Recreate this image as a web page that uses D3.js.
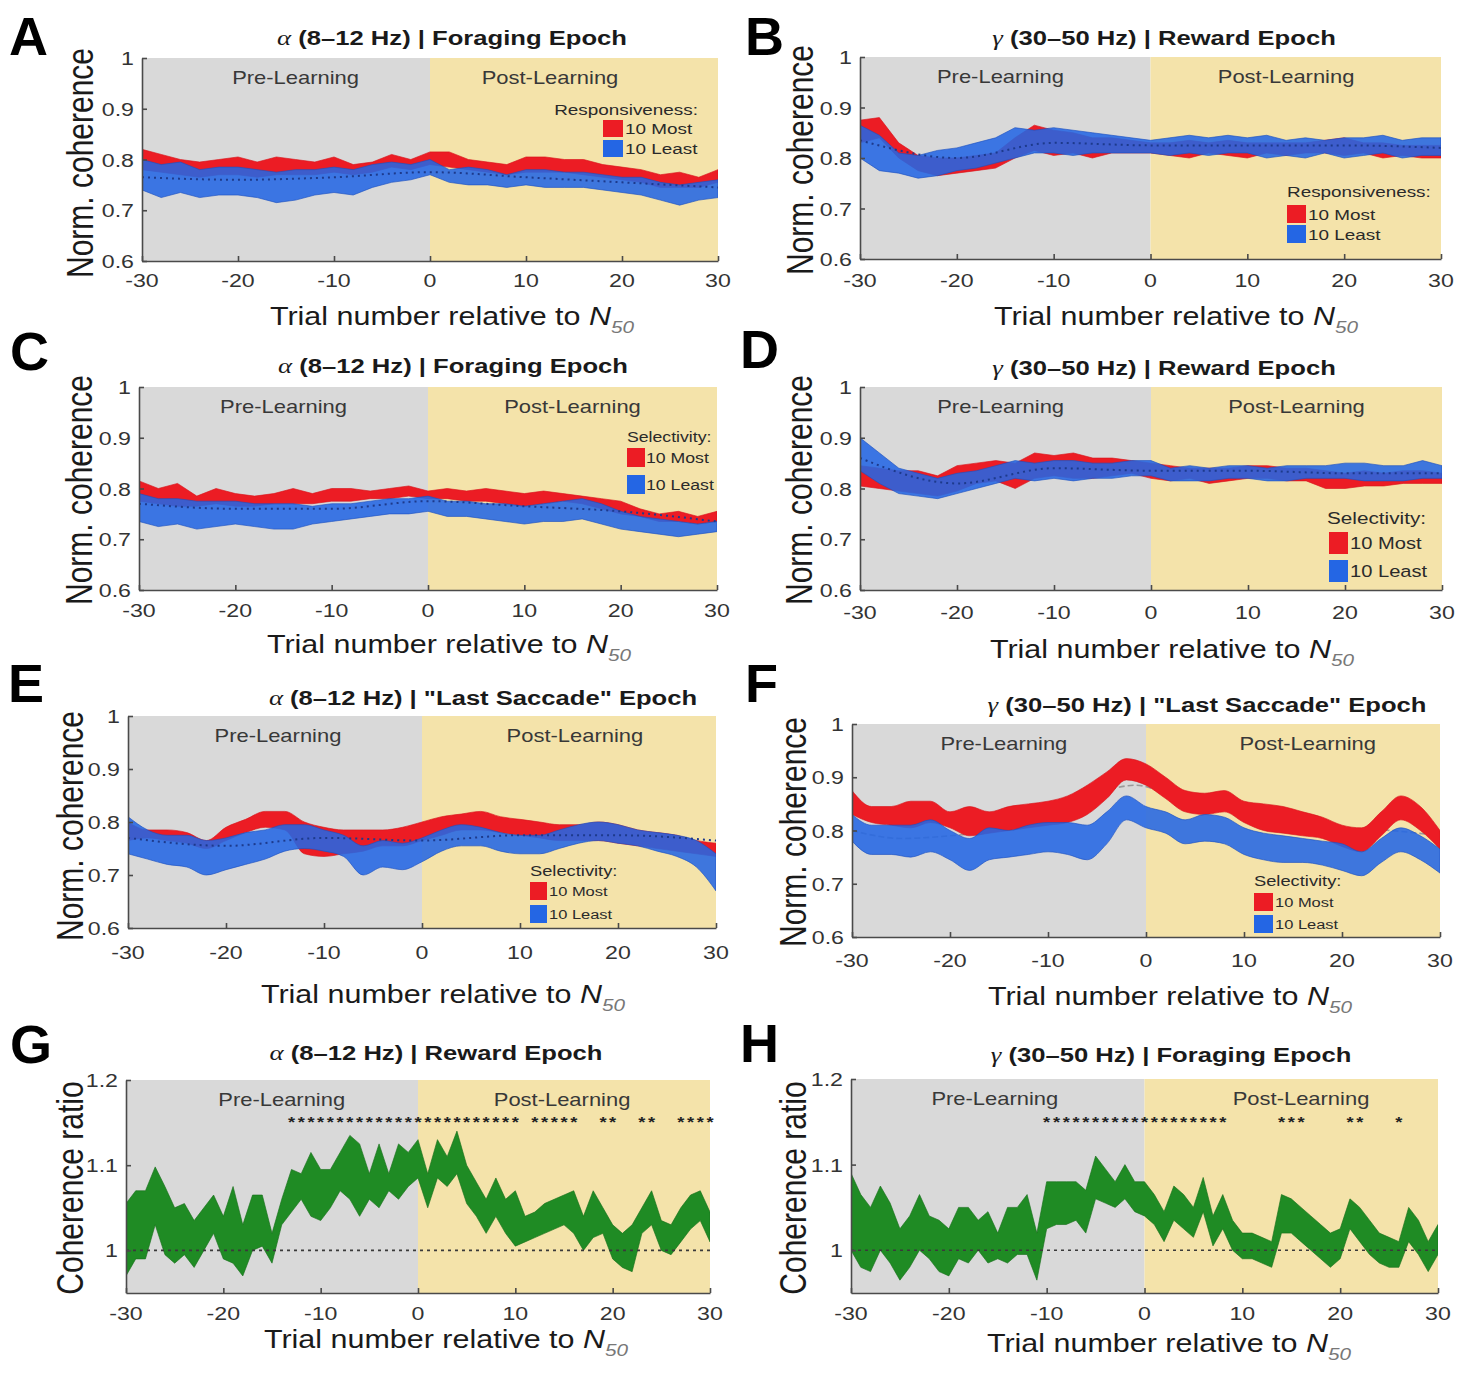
<!DOCTYPE html>
<html>
<head>
<meta charset="utf-8">
<script src="https://cdn.jsdelivr.net/npm/d3@7"></script>
<style>
  body { margin: 0; background: #fff; }
  svg { display: block; }
  text { font-family: "Liberation Sans", Arial, Helvetica, sans-serif; }
</style>
</head>
<body>
<svg id="fig" width="1473" height="1374"></svg>
<script>
// ---- shared categories / ticks ----
const trialsEven = [-30,-28,-26,-24,-22,-20,-18,-16,-14,-12,-10,-8,-6,-4,-2,0,2,4,6,8,10,12,14,16,18,20,22,24,26,28,30];
const trialsAll = [-30,-29,-28,-27,-26,-25,-24,-23,-22,-21,-20,-19,-18,-17,-16,-15,-14,-13,-12,-11,
  -10,-9,-8,-7,-6,-5,-4,-3,-2,-1,0,1,2,3,4,5,6,7,8,9,10,11,12,13,14,15,16,17,18,19,20,
  21,22,23,24,25,26,27,28,29,30];
const xTicks = [-30,-20,-10,0,10,20,30];
const coherenceTicks = [0.6,0.7,0.8,0.9,1];
const ratioTicks = [1,1.1,1.2];
const trendTrials = [-30,-20,-10,0,10,20,30];
const epochNames = ["Pre-Learning", "Post-Learning"];
const groupNames = ["10 Most", "10 Least"];

// ---- A: alpha, foraging, responsiveness ----
const aMostHi  = [.82,.81,.80,.795,.80,.805,.795,.805,.80,.795,.805,.79,.795,.81,.80,.815,.815,.80,.795,.79,.805,.805,.80,.80,.79,.785,.78,.77,.775,.765,.78];
const aMostLo  = [.78,.775,.77,.765,.77,.77,.765,.77,.77,.77,.775,.77,.775,.785,.78,.79,.785,.78,.775,.77,.775,.775,.775,.77,.765,.76,.755,.745,.745,.745,.755];
const aLeastHi = [.80,.79,.795,.78,.785,.785,.78,.775,.78,.78,.785,.78,.79,.795,.79,.80,.78,.785,.78,.77,.78,.78,.775,.775,.77,.765,.765,.755,.75,.755,.76];
const aLeastLo = [.74,.725,.735,.725,.73,.73,.725,.715,.72,.73,.735,.73,.745,.755,.76,.77,.755,.75,.75,.745,.75,.745,.745,.745,.74,.735,.73,.72,.71,.72,.725];
const aTrend   = [.765,.76,.765,.775,.765,.755,.745];

// ---- B: gamma, reward, responsiveness ----
const bMostHi  = [.875,.88,.83,.805,.80,.80,.805,.81,.84,.865,.855,.85,.84,.84,.835,.83,.83,.835,.83,.835,.83,.83,.83,.83,.835,.84,.83,.83,.825,.825,.825];
const bMostLo  = [.83,.84,.80,.775,.765,.77,.775,.78,.80,.815,.805,.81,.80,.81,.81,.81,.805,.80,.81,.805,.80,.81,.805,.81,.81,.805,.81,.80,.805,.80,.80];
const bLeastHi = [.865,.845,.81,.805,.815,.82,.83,.84,.86,.855,.86,.855,.85,.845,.84,.835,.84,.845,.84,.845,.84,.845,.835,.84,.835,.84,.84,.845,.835,.84,.84];
const bLeastLo = [.80,.775,.77,.76,.765,.775,.78,.79,.80,.81,.81,.805,.81,.81,.81,.81,.805,.81,.805,.81,.81,.80,.805,.80,.81,.80,.805,.81,.80,.805,.805];
const bTrend   = [.835,.80,.83,.825,.825,.825,.82];

// ---- C: alpha, foraging, selectivity ----
const cMostHi  = [.815,.80,.81,.785,.80,.79,.785,.79,.80,.79,.80,.80,.795,.80,.805,.795,.80,.795,.80,.795,.79,.795,.79,.785,.78,.775,.76,.75,.755,.745,.755];
const cMostLo  = [.775,.77,.765,.765,.77,.765,.765,.77,.77,.77,.775,.775,.78,.78,.785,.78,.78,.775,.775,.77,.765,.77,.775,.77,.76,.75,.745,.735,.735,.73,.735];
const cLeastHi = [.79,.78,.78,.775,.775,.775,.77,.77,.77,.765,.77,.77,.775,.78,.78,.785,.775,.775,.77,.77,.765,.77,.775,.78,.77,.755,.745,.74,.735,.73,.735];
const cLeastLo = [.735,.725,.73,.72,.725,.73,.725,.72,.72,.73,.735,.74,.745,.75,.75,.755,.745,.745,.74,.735,.73,.735,.735,.74,.73,.72,.715,.71,.705,.71,.715];
const cTrend   = [.77,.76,.76,.775,.765,.755,.735];

// ---- D: gamma, reward, selectivity ----
const dMostHi  = [.845,.84,.835,.835,.825,.845,.85,.855,.85,.87,.865,.87,.86,.86,.855,.85,.845,.84,.84,.84,.845,.845,.84,.84,.835,.83,.835,.83,.835,.835,.83];
const dMostLo  = [.805,.80,.795,.79,.785,.795,.81,.815,.80,.82,.825,.82,.82,.825,.83,.82,.815,.82,.81,.815,.82,.82,.815,.815,.80,.80,.805,.805,.81,.81,.81];
const dLeastHi = [.90,.87,.84,.83,.82,.83,.835,.845,.855,.85,.855,.855,.85,.85,.855,.855,.84,.845,.84,.845,.845,.84,.845,.845,.845,.85,.85,.845,.845,.855,.845];
const dLeastLo = [.835,.81,.79,.785,.78,.79,.80,.81,.82,.815,.82,.815,.82,.82,.825,.825,.815,.815,.815,.82,.82,.815,.815,.82,.82,.82,.815,.815,.815,.82,.82];
const dTrend   = [.86,.81,.84,.835,.835,.83,.83];

// ---- E: alpha, last saccade, selectivity ----
const eMostHi  = [.80,.785,.785,.78,.765,.79,.805,.82,.82,.80,.79,.785,.785,.785,.79,.80,.81,.815,.82,.81,.805,.80,.795,.795,.80,.795,.785,.78,.775,.765,.76];
const eMostLo  = [.765,.77,.765,.76,.75,.765,.78,.79,.785,.74,.735,.74,.745,.755,.755,.765,.775,.785,.785,.78,.775,.77,.765,.765,.765,.76,.755,.75,.745,.74,.735];
const eLeastHi = [.81,.785,.775,.775,.765,.77,.78,.785,.795,.795,.785,.775,.755,.765,.76,.77,.785,.795,.79,.78,.775,.775,.785,.795,.80,.795,.785,.78,.775,.765,.74];
const eLeastLo = [.74,.73,.72,.715,.70,.71,.72,.73,.745,.75,.745,.735,.70,.715,.71,.725,.745,.755,.755,.745,.74,.74,.75,.76,.765,.76,.755,.745,.735,.715,.67];
const eTrend   = [.77,.755,.77,.765,.775,.775,.765];

// ---- F: gamma, last saccade, selectivity ----
const fMostHi  = [.875,.845,.845,.855,.855,.835,.845,.835,.845,.85,.855,.865,.885,.91,.935,.925,.90,.875,.87,.875,.855,.85,.845,.835,.825,.81,.805,.835,.865,.845,.80];
const fMostLo  = [.83,.815,.81,.805,.815,.805,.79,.795,.80,.805,.81,.815,.83,.86,.895,.885,.86,.835,.83,.835,.815,.80,.795,.79,.785,.77,.76,.79,.82,.80,.765];
const fLeastHi = [.83,.81,.81,.81,.82,.80,.785,.805,.80,.81,.815,.815,.81,.835,.865,.845,.835,.82,.83,.825,.805,.795,.79,.785,.78,.775,.76,.785,.805,.79,.765];
const fLeastLo = [.78,.755,.755,.75,.76,.745,.725,.745,.75,.755,.76,.755,.745,.775,.82,.805,.795,.775,.78,.775,.755,.745,.74,.74,.735,.725,.715,.74,.76,.745,.72];
const fPooledTrials = [-30,-25,-20,-15,-10,-6,-3,-1,2,5,10,15,20,25,30];
const fPooled       = [.80,.785,.79,.80,.815,.835,.88,.885,.87,.85,.835,.82,.805,.80,.79];

// ---- G: alpha, reward, coherence ratio ----
const gRatioHi = [1.055,1.07,1.07,1.098,1.075,1.05,1.055,1.035,1.05,1.065,
  1.04,1.075,1.03,1.065,1.065,1.02,1.06,1.095,1.09,1.115,
  1.095,1.095,1.115,1.135,1.125,1.09,1.125,1.09,1.125,1.115,
  1.13,1.09,1.13,1.11,1.14,1.10,1.08,1.06,1.085,1.06,
  1.07,1.04,1.045,1.055,1.06,1.065,1.07,1.04,1.07,1.05,
  1.03,1.02,1.03,1.05,1.07,1.035,1.03,1.05,1.065,1.07,1.045];
const gRatioLo = [.97,.99,.99,1.03,.995,.985,.995,.98,1.0,1.02,
  .99,.985,.97,1.0,1.005,.985,1.03,1.045,1.06,1.04,
  1.035,1.05,1.07,1.06,1.04,1.06,1.05,1.07,1.06,1.075,
  1.085,1.05,1.085,1.075,1.09,1.055,1.04,1.02,1.04,1.02,
  1.005,1.01,1.015,1.02,1.025,1.03,1.02,1.0,1.015,1.02,
  .99,.98,.975,1.02,1.03,1.0,.995,1.01,1.025,1.035,1.01];
const gSignificant = [-13,-12,-11,-10,-9,-8,-7,-6,-5,-4,-3,-2,-1,0,1,2,3,4,5,6,7,8,9,10,
  12,13,14,15,16,19,20,23,24,27,28,29,30];

// ---- H: gamma, foraging, coherence ratio ----
const hRatioHi = [1.09,1.065,1.05,1.075,1.055,1.025,1.04,1.065,1.04,1.035,
  1.025,1.05,1.05,1.035,1.045,1.02,1.05,1.05,1.065,1.02,
  1.08,1.08,1.08,1.08,1.07,1.11,1.095,1.08,1.10,1.08,
  1.08,1.065,1.045,1.075,1.065,1.05,1.085,1.04,1.065,1.035,
  1.02,1.02,1.015,1.01,1.065,1.06,1.05,1.04,1.03,1.02,
  1.025,1.06,1.05,1.035,1.02,1.015,1.01,1.05,1.035,1.01,1.03];
const hRatioLo = [1.0,.98,.975,1.0,.985,.965,.98,1.0,.99,.975,
  .97,.99,.985,1.0,.985,.99,.985,.995,.995,.965,
  1.025,1.03,1.03,1.035,1.02,1.06,1.055,1.05,1.06,1.045,
  1.04,1.03,1.01,1.035,1.025,1.015,1.045,1.005,1.025,1.0,
  .99,.99,.985,.98,1.02,1.02,1.01,1.0,.99,.98,
  .99,1.025,1.01,.995,.985,.98,.98,1.01,.995,.975,.995];
const hSignificant = [-10,-9,-8,-7,-6,-5,-4,-3,-2,-1,0,1,2,3,4,5,6,7,8,14,15,16,21,22,26];

// ---- styling ----
const RED = "#ec1c24", BLUE = "#2466e4", GREEN = "#1f8b24", GREEN_EDGE = "#17701b";
const GRAY = "#d9d9d9", YELLOW = "#f4e3aa", AXIS = "#4a4a4a";
const GREEK = "'Liberation Serif', 'DejaVu Serif', serif";
const SX = 1.22; // text in the figure is set slightly wide

const svg = d3.select("#fig");

function wideText(parent, x, y, size, anchor, rotate) {
  const g = parent.append("g")
    .attr("transform", `translate(${x},${y}) scale(${SX},1)` + (rotate ? ` rotate(${rotate})` : ""));
  return g.append("text")
    .attr("font-size", size)
    .attr("text-anchor", anchor || "start")
    .attr("fill", "#1a1a1a");
}

function pair(most, least) {
  return [
    { x: trialsEven, lo: most[0], hi: most[1], color: RED, opacity: 1, edge: "#d8141b" },
    { x: trialsEven, lo: least[0], hi: least[1], color: BLUE, opacity: 0.88, edge: "#1c50c0" }
  ];
}
function dottedTrend(values) {
  return { x: trendTrials, y: values, color: "#1d3a8c", width: 2, dash: "2,4" };
}

const panels = [
  { letter: "A", greek: "α", title: "(8–12 Hz) | Foraging Epoch",
    left: 142, right: 718, top: 58, bottom: 261, yDomain: [0.6, 1], yTicks: coherenceTicks,
    titleX: 452, titleY: 45, letterX: 9, letterY: 55, yLabel: "Norm. coherence", yLabelX: 93, yLabelY: 163,
    xLabelX: 452, xLabelY: 325, xTickDy: 26, preAt: -14, postAt: 12.5, curve: d3.curveLinear,
    bands: pair([aMostLo, aMostHi], [aLeastLo, aLeastHi]), over: dottedTrend(aTrend),
    legend: { header: "Responsiveness:", hx: 698, hy: 115, hAnchor: "end", hfs: 15.5,
              sx: 603, sy: [120, 140], sw: 20, sh: 17, lx: 625, lfs: 15.5 } },
  { letter: "B", greek: "γ", title: "(30–50 Hz) | Reward Epoch",
    left: 860, right: 1441, top: 57, bottom: 259, yDomain: [0.6, 1], yTicks: coherenceTicks,
    titleX: 1164, titleY: 45, letterX: 745, letterY: 55, yLabel: "Norm. coherence", yLabelX: 813, yLabelY: 160,
    xLabelX: 1176, xLabelY: 325, xTickDy: 28, preAt: -15.5, postAt: 14, curve: d3.curveLinear,
    bands: pair([bMostLo, bMostHi], [bLeastLo, bLeastHi]), over: dottedTrend(bTrend),
    legend: { header: "Responsiveness:", hx: 1287, hy: 197, hAnchor: "start", hfs: 15.5,
              sx: 1287, sy: [205, 225], sw: 19, sh: 18, lx: 1308, lfs: 15.5 } },
  { letter: "C", greek: "α", title: "(8–12 Hz) | Foraging Epoch",
    left: 139, right: 717, top: 387, bottom: 590, yDomain: [0.6, 1], yTicks: coherenceTicks,
    titleX: 453, titleY: 373, letterX: 10, letterY: 370, yLabel: "Norm. coherence", yLabelX: 92, yLabelY: 490,
    xLabelX: 449, xLabelY: 653, xTickDy: 27, preAt: -15, postAt: 15, curve: d3.curveLinear,
    bands: pair([cMostLo, cMostHi], [cLeastLo, cLeastHi]), over: dottedTrend(cTrend),
    legend: { header: "Selectivity:", hx: 627, hy: 442, hAnchor: "start", hfs: 14.5,
              sx: 627, sy: [448, 475], sw: 18, sh: 19, lx: 646, lfs: 14.5 } },
  { letter: "D", greek: "γ", title: "(30–50 Hz) | Reward Epoch",
    left: 860, right: 1442, top: 387, bottom: 590, yDomain: [0.6, 1], yTicks: coherenceTicks,
    titleX: 1164, titleY: 375, letterX: 740, letterY: 368, yLabel: "Norm. coherence", yLabelX: 812, yLabelY: 490,
    xLabelX: 1172, xLabelY: 658, xTickDy: 29, preAt: -15.5, postAt: 15, curve: d3.curveLinear,
    bands: pair([dMostLo, dMostHi], [dLeastLo, dLeastHi]), over: dottedTrend(dTrend),
    legend: { header: "Selectivity:", hx: 1327, hy: 524, hAnchor: "start", hfs: 17,
              sx: 1329, sy: [532, 560], sw: 19, sh: 22, lx: 1350, lfs: 16.5 } },
  { letter: "E", greek: "α", title: "(8–12 Hz) | \"Last Saccade\" Epoch",
    left: 128, right: 716, top: 716, bottom: 928, yDomain: [0.6, 1], yTicks: coherenceTicks,
    titleX: 483, titleY: 705, letterX: 8, letterY: 702, yLabel: "Norm. coherence", yLabelX: 83, yLabelY: 826,
    xLabelX: 443, xLabelY: 1003, xTickDy: 31, preAt: -14.7, postAt: 15.6, curve: d3.curveMonotoneX,
    bands: pair([eMostLo, eMostHi], [eLeastLo, eLeastHi]), over: dottedTrend(eTrend),
    legend: { header: "Selectivity:", hx: 530, hy: 876, hAnchor: "start", hfs: 15,
              sx: 530, sy: [882, 905], sw: 17, sh: 18, lx: 549, lfs: 13.5 } },
  { letter: "F", greek: "γ", title: "(30–50 Hz) | \"Last Saccade\" Epoch",
    left: 852, right: 1440, top: 724, bottom: 937, yDomain: [0.6, 1], yTicks: coherenceTicks,
    titleX: 1207, titleY: 712, letterX: 745, letterY: 702, yLabel: "Norm. coherence", yLabelX: 806, yLabelY: 832,
    xLabelX: 1170, xLabelY: 1005, xTickDy: 30, preAt: -14.5, postAt: 16.5, curve: d3.curveMonotoneX,
    bands: pair([fMostLo, fMostHi], [fLeastLo, fLeastHi]),
    under: { x: fPooledTrials, y: fPooled, color: "#9a9a9a", width: 1.6, dash: "6,3" },
    legend: { header: "Selectivity:", hx: 1254, hy: 886, hAnchor: "start", hfs: 15,
              sx: 1254, sy: [893, 915], sw: 19, sh: 18, lx: 1275, lfs: 13.5 } },
  { letter: "G", greek: "α", title: "(8–12 Hz) | Reward Epoch",
    left: 126, right: 710, top: 1080, bottom: 1293, yDomain: [0.95, 1.2], yTicks: ratioTicks,
    titleX: 436, titleY: 1060, letterX: 10, letterY: 1063, yLabel: "Coherence ratio", yLabelX: 83, yLabelY: 1188,
    xLabelX: 446, xLabelY: 1348, xTickDy: 27, preAt: -14, postAt: 14.8, curve: d3.curveLinear,
    bands: [{ x: trialsAll, lo: gRatioLo, hi: gRatioHi, color: GREEN, opacity: 1, edge: GREEN_EDGE }],
    over: { x: [-30, 30], y: [1, 1], color: "#3a3a3a", width: 1.6, dash: "3,4" },
    stars: gSignificant },
  { letter: "H", greek: "γ", title: "(30–50 Hz) |  Foraging Epoch",
    left: 851, right: 1438, top: 1079, bottom: 1293, yDomain: [0.95, 1.2], yTicks: ratioTicks,
    titleX: 1171, titleY: 1062, letterX: 740, letterY: 1062, yLabel: "Coherence ratio", yLabelX: 806, yLabelY: 1188,
    xLabelX: 1169, xLabelY: 1352, xTickDy: 27, preAt: -15.3, postAt: 16, curve: d3.curveLinear,
    bands: [{ x: trialsAll, lo: hRatioLo, hi: hRatioHi, color: GREEN, opacity: 1, edge: GREEN_EDGE }],
    over: { x: [-30, 30], y: [1, 1], color: "#3a3a3a", width: 1.6, dash: "3,4" },
    stars: hSignificant }
];

function drawPanel(p) {
  const x = d3.scaleLinear().domain([-30, 30]).range([p.left, p.right]);
  const y = d3.scaleLinear().domain(p.yDomain).range([p.bottom, p.top]);
  const g = svg.append("g").attr("class", "panel-" + p.letter);

  // pre / post learning shading
  g.append("rect").attr("x", x(-30)).attr("y", p.top)
    .attr("width", x(0) - x(-30)).attr("height", p.bottom - p.top).attr("fill", GRAY);
  g.append("rect").attr("x", x(0)).attr("y", p.top)
    .attr("width", x(30) - x(0)).attr("height", p.bottom - p.top).attr("fill", YELLOW);

  g.append("clipPath").attr("id", "clip" + p.letter).append("rect")
    .attr("x", p.left).attr("y", p.top).attr("width", p.right - p.left).attr("height", p.bottom - p.top);
  const plot = g.append("g").attr("clip-path", `url(#clip${p.letter})`);

  const drawLine = l => plot.append("path")
    .attr("d", d3.line().curve(d3.curveMonotoneX).x((d, i) => x(l.x[i])).y(d => y(d))(l.y))
    .attr("fill", "none").attr("stroke", l.color).attr("stroke-width", l.width)
    .attr("stroke-dasharray", l.dash);

  if (p.under) drawLine(p.under);

  p.bands.forEach(b => {
    const area = d3.area().curve(p.curve)
      .x((d, i) => x(b.x[i]))
      .y0((d, i) => y(b.lo[i]))
      .y1(d => y(d));
    plot.append("path").attr("d", area(b.hi))
      .attr("fill", b.color).attr("fill-opacity", b.opacity)
      .attr("stroke", b.edge).attr("stroke-width", 0.8).attr("stroke-opacity", 0.8);
  });

  if (p.over) drawLine(p.over);

  if (p.stars) {
    p.stars.forEach(t => wideText(g, x(t), y(1.155) + 9, 15, "middle")
      .attr("font-weight", "bold").attr("fill", "#222").text("*"));
  }

  // axes: ticks point inward, labels drawn separately
  g.append("g").attr("transform", `translate(0,${p.bottom})`).attr("color", AXIS)
    .call(d3.axisBottom(x).tickValues(xTicks).tickSize(-5).tickSizeOuter(0).tickFormat(""))
    .call(a => a.selectAll("path,line").attr("stroke-width", 1.6));
  g.append("g").attr("transform", `translate(${p.left},0)`).attr("color", AXIS)
    .call(d3.axisLeft(y).tickValues(p.yTicks).tickSize(-5).tickSizeOuter(0).tickFormat(""))
    .call(a => a.selectAll("path,line").attr("stroke-width", 1.6));

  xTicks.forEach(t => wideText(g, x(t), p.bottom + p.xTickDy, 19, "middle")
    .attr("fill", "#333").text(String(t)));
  p.yTicks.forEach(v => wideText(g, p.left - 8, y(v) + 7, 19, "end")
    .attr("fill", "#333").text(d3.format("~g")(v)));

  // epoch labels
  wideText(g, x(p.preAt), p.top + 26, 18, "middle").attr("fill", "#383838").text(epochNames[0]);
  wideText(g, x(p.postAt), p.top + 26, 18, "middle").attr("fill", "#383838").text(epochNames[1]);

  // title
  const t = wideText(g, p.titleX, p.titleY, 21, "middle").attr("font-weight", "bold");
  t.append("tspan").attr("font-family", GREEK).attr("font-style", "italic")
    .attr("font-weight", "normal").attr("font-size", 22).text(p.greek);
  t.append("tspan").text(" " + p.title);

  // axis titles
  wideText(g, p.yLabelX, p.yLabelY, 30, "middle", -90).text(p.yLabel);
  const xl = wideText(g, p.xLabelX, p.xLabelY, 25, "middle");
  xl.append("tspan").text("Trial number relative to ");
  xl.append("tspan").attr("font-style", "italic").text("N");
  xl.append("tspan").attr("font-style", "italic").attr("font-size", 17)
    .attr("dy", 8).attr("fill", "#777").text("50");

  // panel letter
  g.append("text").attr("x", p.letterX).attr("y", p.letterY)
    .attr("font-size", 54).attr("font-weight", "bold").attr("fill", "#000").text(p.letter);

  if (p.legend) {
    const L = p.legend;
    wideText(g, L.hx, L.hy, L.hfs, L.hAnchor).attr("fill", "#2a2a2a").text(L.header);
    [RED, BLUE].forEach((c, i) => {
      g.append("rect").attr("x", L.sx).attr("y", L.sy[i])
        .attr("width", L.sw).attr("height", L.sh).attr("fill", c);
      wideText(g, L.lx, L.sy[i] + L.sh / 2 + L.lfs * 0.36, L.lfs)
        .attr("fill", "#2a2a2a").text(groupNames[i]);
    });
  }
}

panels.forEach(drawPanel);
</script>
</body>
</html>
